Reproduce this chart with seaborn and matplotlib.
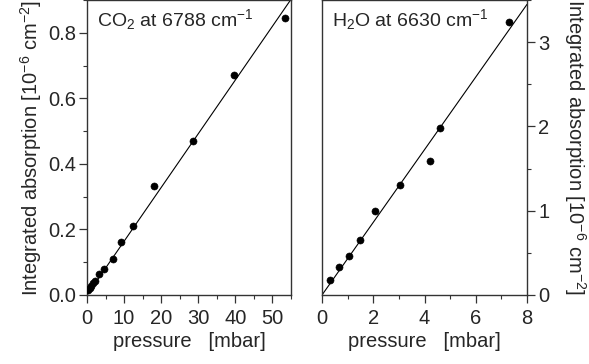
import numpy as np
import pandas as pd
import matplotlib
matplotlib.use('Agg')
import matplotlib.pyplot as plt
import seaborn as sns
from matplotlib.ticker import MultipleLocator, FormatStrFormatter

# CO2 at 6788 cm-1 : pressure [mbar] vs integrated absorption [1e-6 cm-2]
co2_pressure = [0.4, 0.7, 1.1, 1.6, 2.2, 3.2, 4.5, 7.0, 9.1, 12.5, 18.0, 28.6, 39.7, 53.5]
co2_absorption = [0.014, 0.020, 0.028, 0.036, 0.043, 0.063, 0.079, 0.111, 0.162, 0.211, 0.334, 0.469, 0.671, 0.846]
co2_slope = 0.0164

# H2O at 6630 cm-1
h2o_pressure = [0.33, 0.68, 1.07, 1.49, 2.06, 3.04, 4.20, 4.59, 7.31]
h2o_absorption = [0.178, 0.329, 0.468, 0.650, 0.991, 1.308, 1.585, 1.981, 3.234]
h2o_slope = 0.431

sns.set_style('ticks')
plt.rcParams['font.family'] = ['Liberation Sans', 'DejaVu Sans']
plt.rcParams['mathtext.fontset'] = 'custom'
plt.rcParams['mathtext.rm'] = 'Liberation Sans'
plt.rcParams['mathtext.it'] = 'Liberation Sans'
plt.rcParams['mathtext.default'] = 'regular'

FS = 14.5

fig = plt.figure(figsize=(5.89, 3.64), dpi=100)
ax1 = fig.add_axes([87 / 589, 69 / 364, 204 / 589, 295 / 364])
ax2 = fig.add_axes([322 / 589, 69 / 364, 205 / 589, 295 / 364])

ylabel = 'Integrated absorption [10$^{-6}$ cm$^{-2}$]'

# --- CO2 panel ---
co2 = pd.DataFrame({'p': co2_pressure, 'a': co2_absorption})
co2_fit = pd.DataFrame({'p': [0, 55]})
co2_fit['a'] = co2_fit['p'] * co2_slope
sns.lineplot(data=co2_fit, x='p', y='a', ax=ax1, color='black', linewidth=0.8)
sns.scatterplot(data=co2, x='p', y='a', ax=ax1, color='black', s=26, edgecolor='black', zorder=3)
ax1.set_xlim(0, 55)
ax1.set_ylim(0, 0.9)
ax1.xaxis.set_major_locator(MultipleLocator(10))
ax1.xaxis.set_minor_locator(MultipleLocator(5))
ax1.yaxis.set_major_locator(MultipleLocator(0.2))
ax1.yaxis.set_minor_locator(MultipleLocator(0.1))
ax1.yaxis.set_major_formatter(FormatStrFormatter('%.1f'))
ax1.set_xlabel('pressure   [mbar]', fontsize=FS, labelpad=3)
ax1.set_ylabel(ylabel, fontsize=FS, labelpad=3)
ax1.text(0.05, 0.975, 'CO$_2$ at 6788 cm$^{-1}$', transform=ax1.transAxes,
         fontsize=14, va='top', ha='left')

# --- H2O panel ---
h2o = pd.DataFrame({'p': h2o_pressure, 'a': h2o_absorption})
h2o_fit = pd.DataFrame({'p': [0, 8]})
h2o_fit['a'] = h2o_fit['p'] * h2o_slope
sns.lineplot(data=h2o_fit, x='p', y='a', ax=ax2, color='black', linewidth=0.8)
sns.scatterplot(data=h2o, x='p', y='a', ax=ax2, color='black', s=26, edgecolor='black', zorder=3)
ax2.set_xlim(0, 8)
ax2.set_ylim(0, 3.5)
ax2.xaxis.set_major_locator(MultipleLocator(2))
ax2.xaxis.set_minor_locator(MultipleLocator(1))
ax2.yaxis.set_major_locator(MultipleLocator(1))
ax2.yaxis.set_minor_locator(MultipleLocator(0.5))
ax2.yaxis.tick_right()
ax2.yaxis.set_label_position('right')
ax2.set_xlabel('pressure   [mbar]', fontsize=FS, labelpad=3)
ax2.set_ylabel(ylabel, fontsize=FS, rotation=270, va='bottom', labelpad=9)
ax2.text(0.05, 0.975, 'H$_2$O at 6630 cm$^{-1}$', transform=ax2.transAxes,
         fontsize=14, va='top', ha='left')

for ax in (ax1, ax2):
    for sp in ax.spines.values():
        sp.set_visible(True)
        sp.set_color('#333333')
        sp.set_linewidth(1.0)
    ax.tick_params(which='major', direction='out', length=6, width=0.9, labelsize=FS, color='#333333', pad=2)
    ax.tick_params(which='minor', direction='out', length=3, width=0.8, color='#333333')
    ax.tick_params(axis='x', which='major', pad=4)

fig.savefig('out.png', dpi=100)
